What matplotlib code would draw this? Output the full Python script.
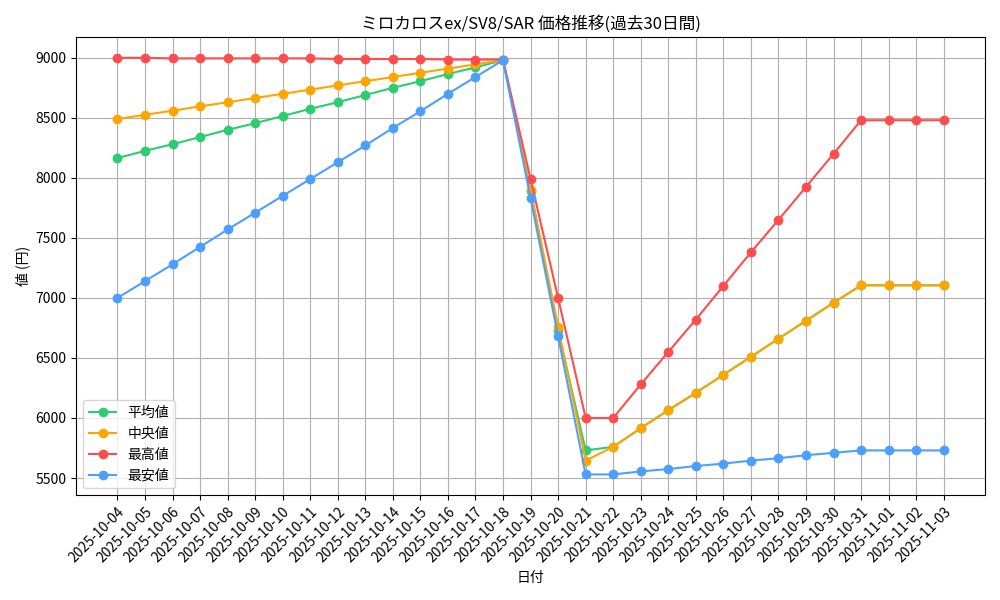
import matplotlib
matplotlib.use("Agg")
import matplotlib.pyplot as plt
import pandas as pd

plt.rcParams['font.family'] = ['Noto Sans CJK JP', 'DejaVu Sans']

dates = [d.strftime('%Y-%m-%d') for d in pd.date_range('2025-10-04', '2025-11-03')]
avg = [8165, 8225, 8280, 8340, 8400, 8455, 8515, 8575, 8630, 8690, 8750, 8805, 8865, 8920, 8980,
       7890, 6730, 5730, 5760, 5915, 6065, 6210, 6360, 6510, 6660, 6810, 6960, 7105, 7105, 7105, 7105]
med = [8490, 8525, 8560, 8595, 8630, 8665, 8700, 8735, 8770, 8805, 8840, 8875, 8910, 8945, 8980,
       7900, 6760, 5645, 5760, 5915, 6065, 6210, 6360, 6510, 6660, 6810, 6960, 7105, 7105, 7105, 7105]
mx = [9000, 9000, 8995, 8995, 8995, 8995, 8995, 8995, 8990, 8990, 8990, 8990, 8985, 8985, 8985,
      7990, 7000, 6000, 6000, 6280, 6550, 6820, 7100, 7380, 7650, 7925, 8200, 8480, 8480, 8480, 8480]
mn = [7000, 7140, 7280, 7425, 7570, 7710, 7850, 7990, 8130, 8270, 8415, 8555, 8700, 8840, 8980,
      7830, 6680, 5530, 5530, 5555, 5575, 5600, 5620, 5645, 5665, 5690, 5710, 5730, 5730, 5730, 5730]

fig, ax = plt.subplots(figsize=(10, 6), dpi=100)
x = range(len(dates))
ax.plot(x, avg, marker='o', color='#2ecc71', label='平均値')
ax.plot(x, med, marker='o', color='#ffa500', label='中央値')
ax.plot(x, mx, marker='o', color='#ff4d4d', label='最高値')
ax.plot(x, mn, marker='o', color='#4d9fff', label='最安値')
ax.set_xticks(list(x))
ax.set_xticklabels(dates, rotation=45, ha='right', rotation_mode='anchor')
ax.set_title('ミロカロスex/SV8/SAR 価格推移(過去30日間)')
ax.set_xlabel('日付')
ax.set_ylabel('値 (円)')
ax.grid(True)
ax.legend(loc='lower left')
fig.tight_layout()
fig.savefig('out.png')
